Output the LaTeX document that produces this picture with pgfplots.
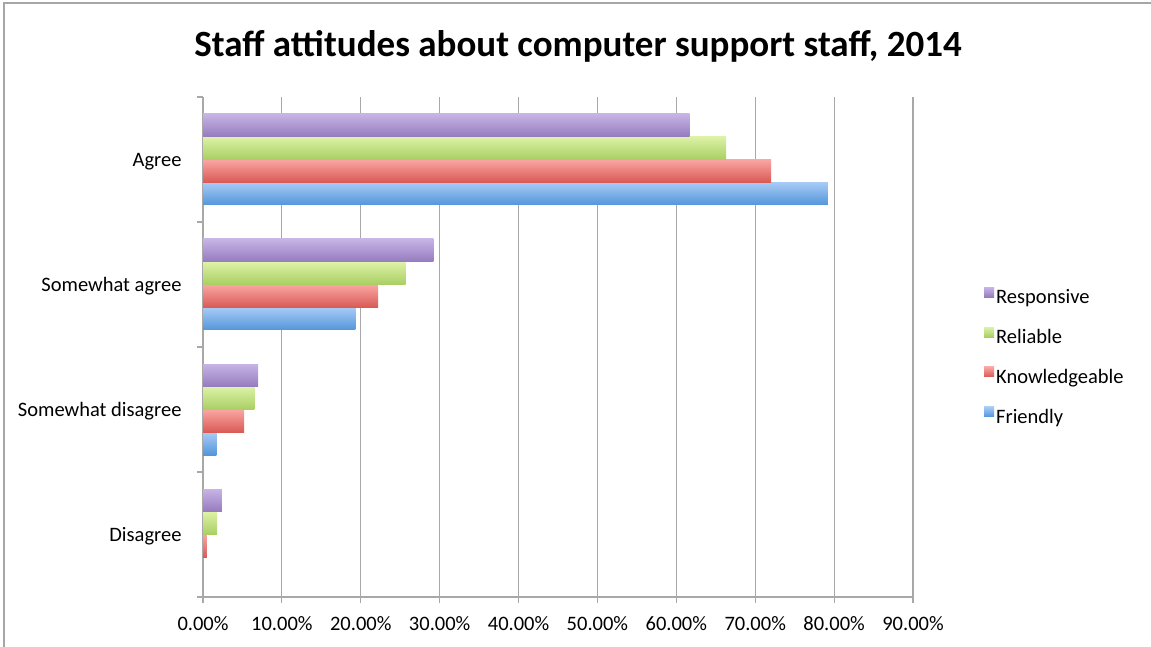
\documentclass[border=0pt]{standalone}
\usepackage{pgfplots}
\pgfplotsset{compat=1.18}
\usepackage{fontspec}
\setmainfont{Carlito}
\definecolor{purT}{HTML}{C7B4E6}
\definecolor{purB}{HTML}{957BBE}
\definecolor{grnT}{HTML}{DDF2A6}
\definecolor{grnB}{HTML}{A9CF63}
\definecolor{redT}{HTML}{FAA6A3}
\definecolor{redB}{HTML}{D95A55}
\definecolor{bluT}{HTML}{A8CBF6}
\definecolor{bluB}{HTML}{5396DA}
\definecolor{gridc}{HTML}{A8A8A8}
\pgfplotsset{
  fr/.style={draw=none, top color=bluT, bottom color=bluB, bar shift=-34.125pt},
  kn/.style={draw=none, top color=redT, bottom color=redB, bar shift=-11.375pt},
  re/.style={draw=none, top color=grnT, bottom color=grnB, bar shift=11.375pt},
  rs/.style={draw=none, top color=purT, bottom color=purB, bar shift=34.125pt},
}
\begin{document}
\begin{tikzpicture}[x=1pt,y=1pt]
\begin{axis}[
  at={(203pt,49pt)}, anchor=south west,
  scale only axis, width=710pt, height=500pt,
  xbar, bar width=22.75pt,
  xmin=0, xmax=90, ymin=-0.5, ymax=3.5,
  xtick={0,10,...,90},
  xticklabels={0.00\%,10.00\%,20.00\%,30.00\%,40.00\%,50.00\%,60.00\%,70.00\%,80.00\%,90.00\%},
  ytick={0,1,2,3},
  yticklabels={Disagree,Somewhat disagree,Somewhat agree,Agree},
  minor ytick={-0.5,0.5,1.5,2.5,3.5},
  ytick style={draw=none},
  minor y tick style={draw=gridc, line width=1.2pt},
  x tick style={draw=gridc, line width=1.2pt},
  tick align=outside, major tick length=6pt, minor tick length=6pt,
  axis x line*=bottom, axis y line*=left,
  axis line style={draw=gridc, line width=1.2pt},
  xmajorgrids, major grid style={draw=gridc, line width=1.2pt},
  tick label style={font=\fontsize{20.5}{24}\selectfont, text=black},
  xticklabel style={yshift=-10pt},
  yticklabel style={xshift=-12pt, yshift=-2pt},
  reverse legend,
  legend style={at={(1.1,0.62)}, anchor=north west, draw=none, fill=none,
    font=\fontsize{20.5}{24}\selectfont, row sep=20pt, inner sep=0pt,
    nodes={inner sep=2pt}},
  legend cell align=left,
  legend image code/.code={\path[#1,draw=none] (0pt,0pt) rectangle (10pt,10pt);},
]
% Friendly
\addplot[fr] coordinates {(0,0)};
\addlegendentry{Friendly}
\addplot[fr, forget plot] coordinates {(1.7,1)};
\addplot[fr, forget plot] coordinates {(19.3,2)};
\addplot[fr, forget plot] coordinates {(79.2,3)};
% Knowledgeable
\addplot[kn] coordinates {(0.5,0)};
\addlegendentry{Knowledgeable}
\addplot[kn, forget plot] coordinates {(5.2,1)};
\addplot[kn, forget plot] coordinates {(22.2,2)};
\addplot[kn, forget plot] coordinates {(72.0,3)};
% Reliable
\addplot[re] coordinates {(1.8,0)};
\addlegendentry{Reliable}
\addplot[re, forget plot] coordinates {(6.5,1)};
\addplot[re, forget plot] coordinates {(25.7,2)};
\addplot[re, forget plot] coordinates {(66.3,3)};
% Responsive
\addplot[rs] coordinates {(2.4,0)};
\addlegendentry{Responsive}
\addplot[rs, forget plot] coordinates {(7.0,1)};
\addplot[rs, forget plot] coordinates {(29.2,2)};
\addplot[rs, forget plot] coordinates {(61.7,3)};
\end{axis}
\node[font=\bfseries\fontsize{37}{44}\selectfont] at (578,600) {Staff attitudes about computer support staff, 2014};
\draw[gray!70, line width=1.5pt] (4,-20) -- (4,643) -- (1170,643);
\pgfresetboundingbox
\path[use as bounding box] (0,0) rectangle (1151,646);
\end{tikzpicture}
\end{document}
